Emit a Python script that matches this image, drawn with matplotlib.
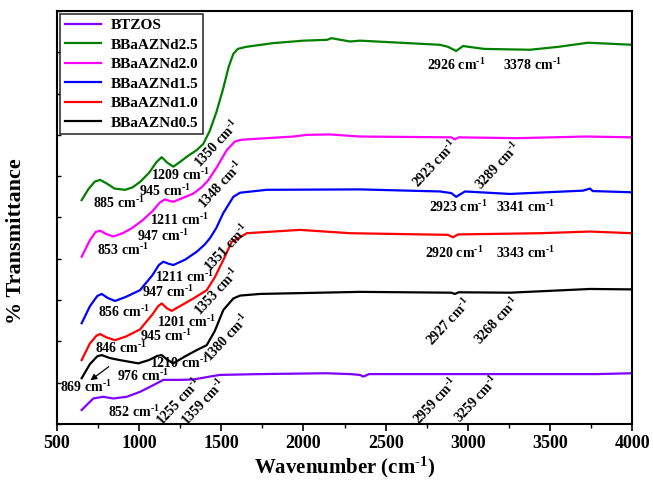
import numpy as np
import matplotlib
matplotlib.use("Agg")
import matplotlib.pyplot as plt
from matplotlib.ticker import MultipleLocator

plt.rcParams['font.family'] = ['Liberation Serif', 'DejaVu Serif']
plt.rcParams['font.weight'] = 'bold'
plt.rcParams['mathtext.fontset'] = 'custom'
plt.rcParams['mathtext.rm'] = 'Liberation Serif:bold'
plt.rcParams['mathtext.it'] = 'Liberation Serif:bold'
plt.rcParams['mathtext.bf'] = 'Liberation Serif:bold'
plt.rcParams['mathtext.default'] = 'rm'

# spectra (wavenumber, arbitrary % T with offsets)
w_btzos = [650, 690, 721, 780, 843, 924, 1005, 1080, 1147, 1249, 1330, 1431, 1492, 1736, 2141, 2283, 2344, 2364, 2400, 3000, 3785, 4000]
t_btzos = [3.4, 5.0, 6.2, 6.6, 6.2, 6.6, 7.8, 9.3, 10.7, 10.7, 10.8, 11.5, 11.9, 12.1, 12.3, 12.1, 11.9, 11.5, 12.1, 12.1, 12.1, 12.3]

w_nd25 = [650, 690, 730, 762, 800, 850, 914, 960, 1005, 1060, 1105, 1137, 1170, 1208, 1250, 1300, 1350, 1390, 1430, 1470, 1510, 1545, 1573, 1600, 1650, 1815, 2000, 2143, 2170, 2283, 2344, 2831, 2880, 2929, 2971, 3100, 3379, 3550, 3732, 4000]
t_nd25 = [54.2, 56.8, 58.7, 59.1, 58.3, 57.0, 56.7, 57.3, 58.6, 60.8, 63.4, 64.6, 63.3, 62.3, 63.5, 65.0, 66.3, 67.8, 71.0, 75.5, 81.0, 86.5, 89.6, 90.8, 91.3, 92.2, 92.8, 93.0, 93.4, 92.6, 92.8, 91.8, 91.3, 90.3, 91.5, 90.8, 90.6, 91.3, 92.3, 91.8]

w_nd20 = [650, 700, 735, 762, 800, 843, 900, 955, 1020, 1080, 1125, 1157, 1185, 1208, 1270, 1330, 1380, 1420, 1470, 1533, 1583, 1620, 1655, 1938, 2019, 2161, 2344, 2900, 2922, 2945, 3298, 3724, 4000]
t_nd20 = [40.5, 44.5, 46.5, 46.8, 46.0, 45.4, 46.2, 47.4, 49.3, 51.5, 53.6, 54.4, 54.0, 53.8, 54.8, 55.8, 57.3, 59.0, 62.0, 66.3, 68.4, 68.8, 68.9, 69.6, 70.0, 70.1, 69.6, 69.4, 68.9, 69.4, 69.2, 69.6, 69.4]

w_nd15 = [650, 700, 745, 772, 810, 853, 920, 1005, 1080, 1120, 1147, 1180, 1208, 1280, 1350, 1400, 1431, 1470, 1511, 1573, 1614, 1777, 2344, 2831, 2900, 2929, 2983, 3257, 3702, 3744, 3760, 4000]
t_nd15 = [24.4, 28.5, 31.0, 31.5, 30.5, 29.8, 30.8, 32.4, 36.0, 38.5, 39.3, 38.8, 38.5, 39.8, 41.7, 43.5, 45.0, 47.5, 51.0, 55.0, 56.0, 56.7, 56.8, 56.3, 55.9, 55.0, 56.3, 55.7, 56.5, 57.0, 56.4, 56.1]

w_nd10 = [650, 700, 740, 762, 800, 853, 920, 1005, 1080, 1115, 1137, 1170, 1198, 1260, 1330, 1411, 1460, 1512, 1563, 1614, 1655, 1979, 2283, 2880, 2910, 2940, 3440, 3744, 4000]
t_nd10 = [15.5, 19.5, 21.4, 21.8, 21.0, 20.3, 21.2, 22.9, 26.5, 28.5, 29.2, 28.0, 27.4, 28.8, 30.4, 32.4, 35.5, 39.7, 44.1, 45.2, 46.2, 47.0, 46.2, 45.8, 45.2, 45.9, 46.2, 46.6, 46.2]

w_nd05 = [650, 700, 745, 772, 820, 880, 995, 1060, 1110, 1137, 1170, 1208, 1280, 1350, 1411, 1460, 1512, 1573, 1614, 1736, 2344, 2900, 2922, 2945, 3257, 3744, 4000]
t_nd05 = [11.1, 14.5, 16.4, 16.7, 16.0, 15.5, 14.7, 15.5, 16.5, 16.7, 15.6, 14.7, 16.4, 17.9, 19.1, 22.5, 27.6, 30.4, 31.1, 31.5, 32.0, 31.8, 31.5, 31.9, 31.8, 32.7, 32.6]

names = ['BTZOS', 'BBaAZNd2.5', 'BBaAZNd2.0', 'BBaAZNd1.5', 'BBaAZNd1.0', 'BBaAZNd0.5']
colors = ['#8000ff', '#008000', '#ff00ff', '#0000ff', '#ff0000', '#000000']

# peak labels: (text, wavenumber position, T position, rotation)
peak_labels = [
    ('885', 877, 53.5, 0), ('945', 1157, 56.5, 0), ('1209', 1253, 60.3, 0), ('1350', 1472, 67.8, 47),
    ('853', 899, 42.0, 0), ('947', 1142, 45.5, 0), ('1211', 1244, 49.4, 0), ('1348', 1498, 58.0, 47),
    ('856', 908, 27.2, 0), ('947', 1172, 32.0, 0), ('1211', 1273, 35.7, 0), ('1351', 1535, 42.6, 47),
    ('846', 888, 18.3, 0), ('945', 1162, 21.3, 0), ('1201', 1289, 24.8, 0), ('1353', 1476, 31.9, 47),
    ('869', 676, 9.0, 0), ('976', 1020, 11.6, 0), ('1210', 1244, 14.7, 0), ('1380', 1537, 21.0, 47),
    ('852', 969, 3.0, 0), ('1255', 1243, 5.4, 47), ('1359', 1391, 5.4, 47),
    ('2926', 2927, 86.9, 0), ('3378', 3394, 86.9, 0),
    ('2923', 2801, 63.0, 47), ('3289', 3186, 62.5, 47),
    ('2923', 2943, 52.5, 0), ('3341', 3353, 52.5, 0),
    ('2920', 2918, 41.3, 0), ('3343', 3353, 41.3, 0),
    ('2927', 2882, 24.8, 47), ('3268', 3180, 25.0, 47),
    ('2959', 2805, 5.6, 47), ('3259', 3055, 6.0, 47),
]

fig = plt.figure(figsize=(6.53, 4.96), dpi=100)
ax = fig.add_axes([0.0873, 0.145, 0.8807, 0.833])

series = [(w_btzos, t_btzos), (w_nd25, t_nd25), (w_nd20, t_nd20),
          (w_nd15, t_nd15), (w_nd10, t_nd10), (w_nd05, t_nd05)]
for (w, t), name, c in zip(series, names, colors):
    ax.plot(w, t, color=c, lw=1.6, label=name)

sup = ' cm$^{\\text{-1}}$'
for txt, x, y, rot in peak_labels:
    ax.text(x, y, txt + sup, fontsize=10, fontweight='bold',
            ha='center', va='center', rotation=rot, rotation_mode='anchor')

ax.annotate('', xy=(690, 10.2), xytext=(829, 14.3),
            arrowprops=dict(arrowstyle='-|>', color='black', lw=0.9, mutation_scale=9))

ax.set_xlim(500, 4000)
ax.set_ylim(0, 100)
ax.xaxis.set_major_locator(MultipleLocator(500))
ax.xaxis.set_minor_locator(MultipleLocator(250))
ax.yaxis.set_major_locator(MultipleLocator(10))
ax.set_yticklabels([])
ax.tick_params(axis='x', which='major', direction='out', length=5, width=1.2, labelsize=13, pad=3)
ax.tick_params(axis='x', which='minor', direction='out', length=3, width=1.0)
ax.tick_params(axis='y', which='major', direction='in', length=3, width=1.0)
for lab in ax.get_xticklabels():
    lab.set_fontweight('bold')
for s in ax.spines.values():
    s.set_linewidth(1.5)

ax.set_xlabel('Wavenumber (cm' + '$^{\\text{-1}}$' + ')', fontsize=15, fontweight='bold', labelpad=2)
ax.set_ylabel('% Transmittance', fontsize=16, fontweight='bold')
ax.yaxis.set_label_coords(-0.054, 0.443)

leg = ax.legend(loc='upper left', fontsize=11, frameon=True, fancybox=False,
                edgecolor='black', borderaxespad=0.2, handlelength=2.4,
                labelspacing=0.38, borderpad=0.3, handletextpad=0.6)
leg.get_frame().set_linewidth(1.2)
for t in leg.get_texts():
    t.set_fontweight('bold')

fig.savefig('out.png', dpi=100)
